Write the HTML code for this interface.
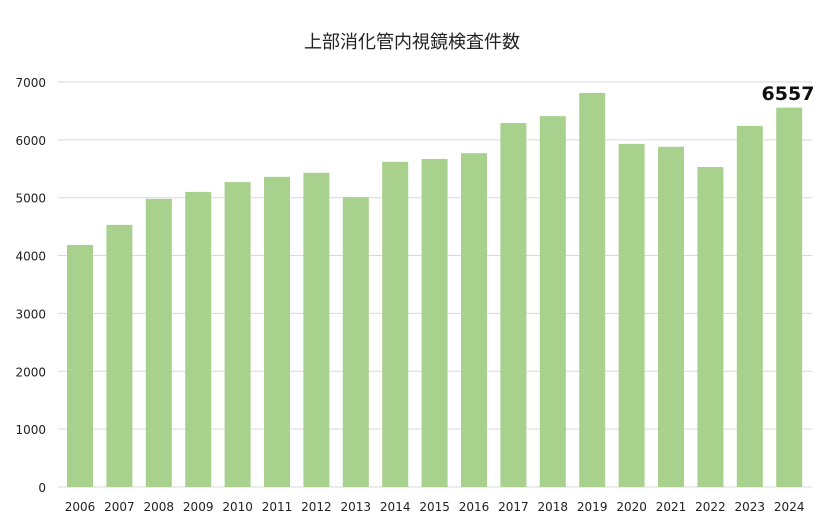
<!DOCTYPE html>
<html><head><meta charset="utf-8"><style>
body{margin:0;background:#fff;}
svg{display:block;font-family:"DejaVu Sans","Noto Sans CJK JP",sans-serif;}
</style></head><body>
<svg width="824" height="526" viewBox="0 0 824 526">
<rect width="824" height="526" fill="#fff"/>
<text x="412" y="48" text-anchor="middle" font-size="18" fill="#222" font-family="Liberation Sans, Noto Sans CJK JP, sans-serif">上部消化管内視鏡検査件数</text>
<g id="grid" stroke="#d9d9d9" stroke-width="1"></g>
<g id="bars" fill="#a9d18e"></g>
<g id="yl" font-size="12" fill="#222" text-anchor="end"></g>
<g id="xl" font-size="12" fill="#222" text-anchor="middle"></g>
<text x="788" y="100" text-anchor="middle" font-size="19" font-weight="bold" fill="#111">6557</text>
<script>
var v=[4183,4530,4980,5100,5270,5360,5430,5010,5620,5670,5770,6290,6410,6810,5930,5880,5530,6240,6557];
var y0=487,k=57.86/1000,ns="http://www.w3.org/2000/svg";
function el(t,a,p,txt){var e=document.createElementNS(ns,t);for(var i in a)e.setAttribute(i,a[i]);if(txt!=null)e.textContent=txt;document.getElementById(p).appendChild(e);}
for(var i=0;i<=7;i++){var y=y0-i*1000*k;el("line",{x1:58,x2:812,y1:y,y2:y},"grid");el("text",{x:46,y:y+5},"yl",String(i*1000));}
for(var j=0;j<19;j++){var cx=80+j*39.4,h=v[j]*k;el("rect",{x:cx-13,y:y0-h,width:26,height:h},"bars");el("text",{x:cx,y:511},"xl",String(2006+j));}
</script>
</svg>
</body></html>
